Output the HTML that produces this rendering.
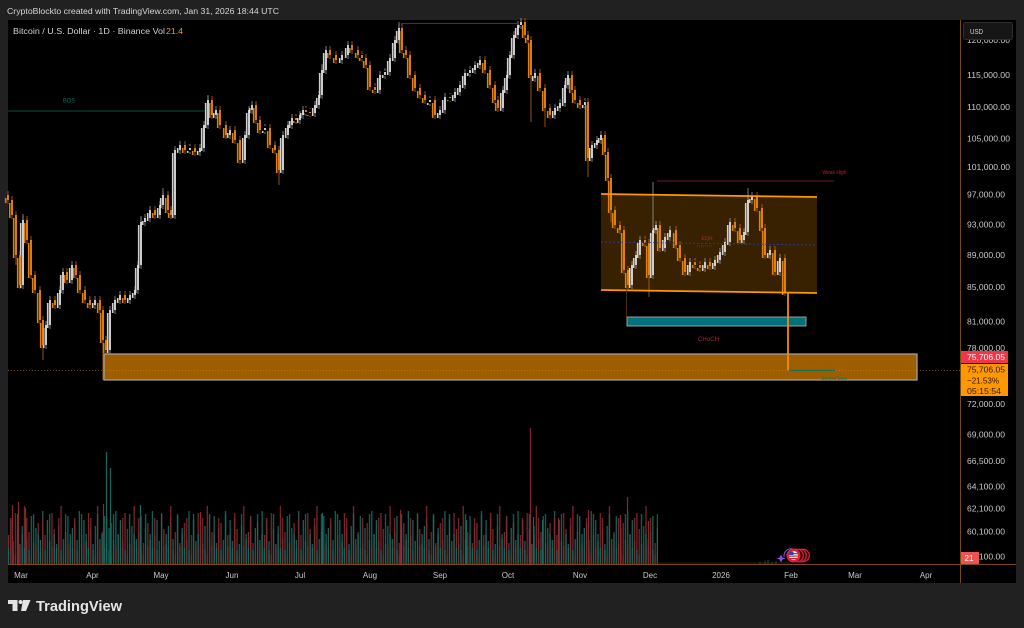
<!DOCTYPE html>
<html><head><meta charset="utf-8"><style>
html,body{margin:0;padding:0;background:#212121;}
svg{display:block;font-family:"Liberation Sans",sans-serif;}
</style></head><body>
<svg width="1024" height="628" viewBox="0 0 1024 628" xmlns="http://www.w3.org/2000/svg" xmlns:xlink="http://www.w3.org/1999/xlink">
<defs>
<path id="wu" d="M23 285V220M46 345V325M50 325V300M60 305V290M63 290V272M72 280V265M95 305V300M110 350V310M115 310V300M120 300V295M130 300V295M135 295V290M138 290V265M141 265V222M145 222V218M150 218V210M160 215V205M163 205V195M175 215V150M180 150V145M190 150V148M200 152V148M204 148V125M208 125V100M216 115V110M230 135V130M245 160V135M249 135V110M252 110V105M265 130V128M283 170V135M288 135V125M292 125V118M300 120V115M303 115V110M315 113V105M319 105V95M322 95V70M326 70V50M342 60V55M348 55V45M380 90V75M385 75V72M390 72V58M395 58V40M399 40V28M430 102V100M440 115V110M445 110V97M455 98V92M460 92V85M465 85V73M470 73V70M475 70V65M480 65V60M503 108V90M507 90V75M510 75V55M514 55V35M518 35V25M521 25V22M535 78V73M555 115V108M560 108V103M565 103V85M568 85V75M585 105V102M592 158V145M597 145V140M601 140V135M632 285V265M636 265V255M640 255V240M653 275V230M656 230V225M665 248V237M670 237V230M690 272V262M705 268V262M715 266V260M720 260V252M725 252V242M730 242V222M744 240V232M748 232V200M752 200V196M770 255V250M780 272V258"/>
<path id="wd" d="M8 195V200M12 200V215M16 215V255M20 255V285M27 220V240M31 240V275M35 275V290M40 290V320M43 320V345M55 300V305M67 272V280M76 265V275M80 275V290M85 290V300M90 300V305M100 300V310M103 310V340M106 340V350M125 295V300M155 210V215M168 195V210M171 210V215M185 145V150M195 148V152M212 100V115M220 110V125M226 125V135M235 130V140M240 140V160M256 105V120M260 120V130M270 128V145M275 145V150M279 150V170M296 118V120M306 110V112M310 112V113M330 50V55M336 55V60M352 45V50M358 50V55M362 55V58M366 58V65M370 65V87M375 87V90M402 28V50M406 50V55M410 55V75M415 75V88M420 88V95M425 95V100M435 100V115M450 97V98M485 60V70M490 70V85M495 85V100M498 100V108M525 22V35M528 35V40M531 40V75M540 73V88M545 88V108M550 108V115M572 75V90M575 90V100M580 100V105M588 102V158M605 135V152M608 152V178M611 178V210M615 210V225M620 225V230M624 230V270M628 270V285M645 240V243M649 243V275M660 225V248M676 230V245M680 245V258M685 258V272M695 262V265M700 265V268M710 262V266M735 222V228M740 228V240M757 196V208M762 208V228M765 228V255M775 250V272M785 258V292"/>
<pattern id="pa" patternUnits="userSpaceOnUse" x="7.9" y="434" width="36.56" height="130">
<rect x="0" y="101" width="1.2" height="29" fill="#86282d"/>
<rect x="2.285" y="86" width="1.2" height="44" fill="#17695f"/>
<rect x="4.57" y="107" width="1.2" height="23" fill="#17695f"/>
<rect x="6.855" y="79" width="1.2" height="51" fill="#86282d"/>
<rect x="9.14" y="95" width="1.2" height="35" fill="#86282d"/>
<rect x="11.425" y="110" width="1.2" height="20" fill="#17695f"/>
<rect x="13.71" y="92" width="1.2" height="38" fill="#17695f"/>
<rect x="15.995" y="72" width="1.2" height="58" fill="#86282d"/>
<rect x="18.28" y="105" width="1.2" height="25" fill="#17695f"/>
<rect x="20.565" y="98" width="1.2" height="32" fill="#86282d"/>
<rect x="22.85" y="82" width="1.2" height="48" fill="#17695f"/>
<rect x="25.135" y="109" width="1.2" height="21" fill="#86282d"/>
<rect x="27.42" y="94" width="1.2" height="36" fill="#17695f"/>
<rect x="29.705" y="89" width="1.2" height="41" fill="#86282d"/>
<rect x="31.99" y="106" width="1.2" height="24" fill="#17695f"/>
<rect x="34.275" y="77" width="1.2" height="53" fill="#17695f"/>
</pattern>
<pattern id="pb" patternUnits="userSpaceOnUse" x="7.9" y="434" width="15.995" height="130">
<rect x="0" y="114" width="1.2" height="16" fill="#17695f"/>
<rect x="2.285" y="84" width="1.2" height="46" fill="#86282d"/>
<rect x="4.57" y="116" width="1.2" height="14" fill="#17695f"/>
<rect x="6.855" y="121" width="1.2" height="9" fill="#86282d"/>
<rect x="9.14" y="80" width="1.2" height="50" fill="#17695f"/>
<rect x="11.425" y="112" width="1.2" height="18" fill="#86282d"/>
<rect x="13.71" y="100" width="1.2" height="30" fill="#17695f"/>
</pattern>
</defs>
<rect x="0" y="0" width="1024" height="628" fill="#212121"/>
<text x="7" y="14" font-size="8.6" fill="#d6d6d6" textLength="272" lengthAdjust="spacingAndGlyphs">CryptoBlockto created with TradingView.com, Jan 31, 2026 18:44 UTC</text>
<rect x="8" y="20" width="1008" height="563" fill="#000"/>
<polygon points="601,194 817,197 817,293 601,290" fill="rgba(255,152,0,0.22)"/>
<!-- volume -->
<rect x="8" y="434" width="650" height="130" fill="url(#pa)"/>
<rect x="8" y="434" width="650" height="130" fill="url(#pb)"/>
<g stroke-width="1.2">
<path d="M12.5 564V505M18.5 564V502M25.5 564V508M103.5 564V504M200.5 564V512M209.5 564V515M400.5 564V510M530.5 564V428M588.5 564V510M627.5 564V497M648.5 564V521M620.5 564V515M558.5 564V518" stroke="#86282d"/>
<path d="M106.5 564V452M110.5 564V468M140.5 564V505M322.5 564V513M466.5 564V520M533.5 564V517M542.5 564V520" stroke="#17695f"/>
</g>
<line x1="658" y1="563" x2="790" y2="563" stroke="#2a1f18" stroke-width="1"/>
<path d="M765 564V561M768 564V560M772 564V562M776 564V561M760 564V562" stroke="#0e4a42" stroke-width="1.2"/>
<!-- candles: wicks -->
<use href="#wu" xlink:href="#wu" stroke="#9a9a9a" stroke-width="0.8" transform="translate(0,-4)"/>
<use href="#wu" xlink:href="#wu" stroke="#9a9a9a" stroke-width="0.8" transform="translate(0,4)"/>
<use href="#wd" xlink:href="#wd" stroke="#b8680a" stroke-width="0.8" transform="translate(0,-4)"/>
<use href="#wd" xlink:href="#wd" stroke="#b8680a" stroke-width="0.8" transform="translate(0,4)"/>
<g stroke-width="0.8">
<path d="M399 28V22M521 22V19M748 200V188M653 230V182M208 100V95M163 195V188M23 220V214M141 222V216M322 70V64" stroke="#9a9a9a"/>
<path d="M103 340V380M531 75V122M43 345V360M279 170V185M649 275V297M545 108V127M588 158V177M611 210V222M16 255V265" stroke="#b8680a"/>
</g>
<!-- candles: shifted filler copy -->
<use href="#wu" xlink:href="#wu" stroke="#d0d0d0" stroke-width="1.6" transform="translate(-2.3,3)"/>
<use href="#wd" xlink:href="#wd" stroke="#e2800c" stroke-width="1.6" transform="translate(-2.3,3)"/>
<!-- candles: bodies -->
<use href="#wu" xlink:href="#wu" stroke="#e2e2e2" stroke-width="1.8"/>
<use href="#wd" xlink:href="#wd" stroke="#f28a0f" stroke-width="1.8"/>
<!-- drawings -->
<line x1="8" y1="111" x2="205" y2="111" stroke="#0d4d44" stroke-width="1"/>
<text x="63" y="102.5" font-size="6" fill="#0f7060" textLength="12" lengthAdjust="spacingAndGlyphs">BOS</text>
<line x1="401" y1="23.5" x2="518" y2="23.5" stroke="#0d4d44" stroke-width="1"/>
<line x1="657" y1="181" x2="834" y2="181" stroke="#5a1620" stroke-width="1.2"/>
<text x="822.5" y="174" font-size="5.2" fill="#b3222e" textLength="24" lengthAdjust="spacingAndGlyphs">Weak High</text>
<line x1="601" y1="194" x2="817" y2="197" stroke="#ff9800" stroke-width="1.8"/>
<line x1="601" y1="290" x2="817" y2="293" stroke="#ff9800" stroke-width="1.8"/>
<line x1="601" y1="242" x2="817" y2="245" stroke="#2c3f94" stroke-width="0.9" stroke-dasharray="2,2"/>
<line x1="697" y1="246" x2="713" y2="246" stroke="#a0283a" stroke-width="0.8" stroke-dasharray="1,1"/>
<text x="701.5" y="240" font-size="5.6" fill="#a8283a" textLength="11" lengthAdjust="spacingAndGlyphs">EQH</text>
<line x1="626.5" y1="290" x2="626.5" y2="317" stroke="#5a3500" stroke-width="0.8"/>
<rect x="627" y="317" width="179" height="9" fill="#00727e" stroke="#a8a8a8" stroke-width="0.9"/>
<text x="698" y="341" font-size="6.6" fill="#a82838" textLength="21" lengthAdjust="spacingAndGlyphs">CHoCH</text>
<line x1="8" y1="370.5" x2="960" y2="370.5" stroke="#8a5210" stroke-width="0.8" stroke-dasharray="1,2"/>
<rect x="104" y="354" width="813" height="26" fill="rgba(255,152,0,0.62)" stroke="#a5a5a5" stroke-width="1.2"/>
<path d="M788 292V370" stroke="#f28a0f" stroke-width="1.8"/>
<line x1="790" y1="370.5" x2="835" y2="370.5" stroke="#177055" stroke-width="0.9"/>
<text x="821" y="380" font-size="5.2" fill="#0f7a5a" textLength="26" lengthAdjust="spacingAndGlyphs">Strong Low</text>
<!-- legend -->
<text x="13" y="34" font-size="8" fill="#d1d4dc" textLength="152" lengthAdjust="spacingAndGlyphs">Bitcoin / U.S. Dollar · 1D · Binance  Vol</text>
<text x="166" y="34" font-size="8" fill="#ff9800" textLength="17" lengthAdjust="spacingAndGlyphs">21.4</text>
<!-- axes lines -->
<line x1="8" y1="564.5" x2="1016" y2="564.5" stroke="#7a4a08" stroke-width="1"/>
<line x1="960.5" y1="20" x2="960.5" y2="583" stroke="#7a4a08" stroke-width="1"/>
<!-- price labels -->
<g font-size="8.3" fill="#c9c9c9">
<text x="967" y="43" textLength="43" lengthAdjust="spacingAndGlyphs">120,000.00</text>
<text x="967" y="78" textLength="43" lengthAdjust="spacingAndGlyphs">115,000.00</text>
<text x="967" y="110" textLength="43" lengthAdjust="spacingAndGlyphs">110,000.00</text>
<text x="967" y="141.5" textLength="43" lengthAdjust="spacingAndGlyphs">105,000.00</text>
<text x="967" y="170" textLength="43" lengthAdjust="spacingAndGlyphs">101,000.00</text>
<text x="967" y="197.5" textLength="38" lengthAdjust="spacingAndGlyphs">97,000.00</text>
<text x="967" y="227.5" textLength="38" lengthAdjust="spacingAndGlyphs">93,000.00</text>
<text x="967" y="258" textLength="38" lengthAdjust="spacingAndGlyphs">89,000.00</text>
<text x="967" y="290" textLength="38" lengthAdjust="spacingAndGlyphs">85,000.00</text>
<text x="967" y="324.5" textLength="38" lengthAdjust="spacingAndGlyphs">81,000.00</text>
<text x="967" y="351" textLength="38" lengthAdjust="spacingAndGlyphs">78,000.00</text>
<text x="967" y="407" textLength="38" lengthAdjust="spacingAndGlyphs">72,000.00</text>
<text x="967" y="437.5" textLength="38" lengthAdjust="spacingAndGlyphs">69,000.00</text>
<text x="967" y="464" textLength="38" lengthAdjust="spacingAndGlyphs">66,500.00</text>
<text x="967" y="489.5" textLength="38" lengthAdjust="spacingAndGlyphs">64,100.00</text>
<text x="967" y="511.5" textLength="38" lengthAdjust="spacingAndGlyphs">62,100.00</text>
<text x="967" y="534.5" textLength="38" lengthAdjust="spacingAndGlyphs">60,100.00</text>
<text x="967" y="559.5" textLength="38" lengthAdjust="spacingAndGlyphs">58,100.00</text>
</g>
<rect x="963.5" y="22.5" width="49" height="17" rx="2" fill="#161616" stroke="#2e2e2e" stroke-width="1"/>
<text x="970" y="34" font-size="7.5" fill="#d6d6d6" textLength="13" lengthAdjust="spacingAndGlyphs">USD</text>
<rect x="961" y="351" width="47" height="12" fill="#f23645"/>
<text x="967" y="360" font-size="8.3" fill="#ffffff" textLength="38" lengthAdjust="spacingAndGlyphs">75,706.05</text>
<rect x="961" y="364" width="47" height="32" fill="#ff9800"/>
<text x="967" y="372.5" font-size="8.3" fill="#2a1600" textLength="38" lengthAdjust="spacingAndGlyphs">75,706.05</text>
<text x="967" y="383.5" font-size="8.3" fill="#2a1600" textLength="32" lengthAdjust="spacingAndGlyphs">−21.53%</text>
<text x="967" y="394" font-size="8.3" fill="#2a1600" textLength="34" lengthAdjust="spacingAndGlyphs">05:15:54</text>
<rect x="961" y="552" width="18" height="12" fill="#f0524f"/>
<text x="964.5" y="561" font-size="8.3" fill="#ffffff" textLength="9" lengthAdjust="spacingAndGlyphs">21</text>
<!-- x labels -->
<g font-size="8" fill="#c9c9c9" text-anchor="middle">
<text x="21" y="578">Mar</text>
<text x="92.5" y="578">Apr</text>
<text x="161" y="578">May</text>
<text x="232" y="578">Jun</text>
<text x="300" y="578">Jul</text>
<text x="370" y="578">Aug</text>
<text x="440" y="578">Sep</text>
<text x="508" y="578">Oct</text>
<text x="580" y="578">Nov</text>
<text x="650" y="578">Dec</text>
<text x="721" y="578">2026</text>
<text x="791" y="578">Feb</text>
<text x="855" y="578">Mar</text>
<text x="926" y="578">Apr</text>
</g>
<!-- event icons -->
<path d="M781,554.5 L782.5,557.5 L785.5,558.5 L782.5,559.5 L781,562.5 L779.5,559.5 L776.5,558.5 L779.5,557.5 Z" fill="#8a4ee0"/>
<path d="M784,557 A7,7 0 0 1 796,551" fill="none" stroke="#8a4ee0" stroke-width="1"/>
<circle cx="803" cy="555.5" r="6.3" fill="#2a0508" stroke="#e0243a" stroke-width="1.2"/>
<circle cx="800" cy="555.5" r="6.3" fill="#2a0508" stroke="#e0243a" stroke-width="1.2"/>
<circle cx="797" cy="555.5" r="6.3" fill="#2a0508" stroke="#e0243a" stroke-width="1.2"/>
<circle cx="793.5" cy="555.5" r="6.5" fill="#d82030" stroke="#e0243a" stroke-width="1"/>
<circle cx="793.5" cy="555.5" r="4.6" fill="#f4f4f4"/>
<rect x="789" y="553" width="9" height="1.2" fill="#d82030"/>
<rect x="789" y="555.5" width="9" height="1.2" fill="#d82030"/>
<rect x="789" y="558" width="9" height="1.2" fill="#d82030"/>
<path d="M789.5,551.5 h4 v3.5 h-4.5 Z" fill="#2346a8"/>
<!-- logo -->
<g fill="#e4e4e4">
<rect x="8" y="600" width="9.5" height="4"/>
<rect x="12.5" y="600" width="5" height="11"/>
<circle cx="20.5" cy="602" r="2"/>
<polygon points="23,600 30.5,600 26,611 21,611"/>
</g>
<text x="36" y="611" font-size="15" font-weight="bold" fill="#e4e4e4" textLength="86" lengthAdjust="spacingAndGlyphs">TradingView</text>
</svg>
</body></html>
